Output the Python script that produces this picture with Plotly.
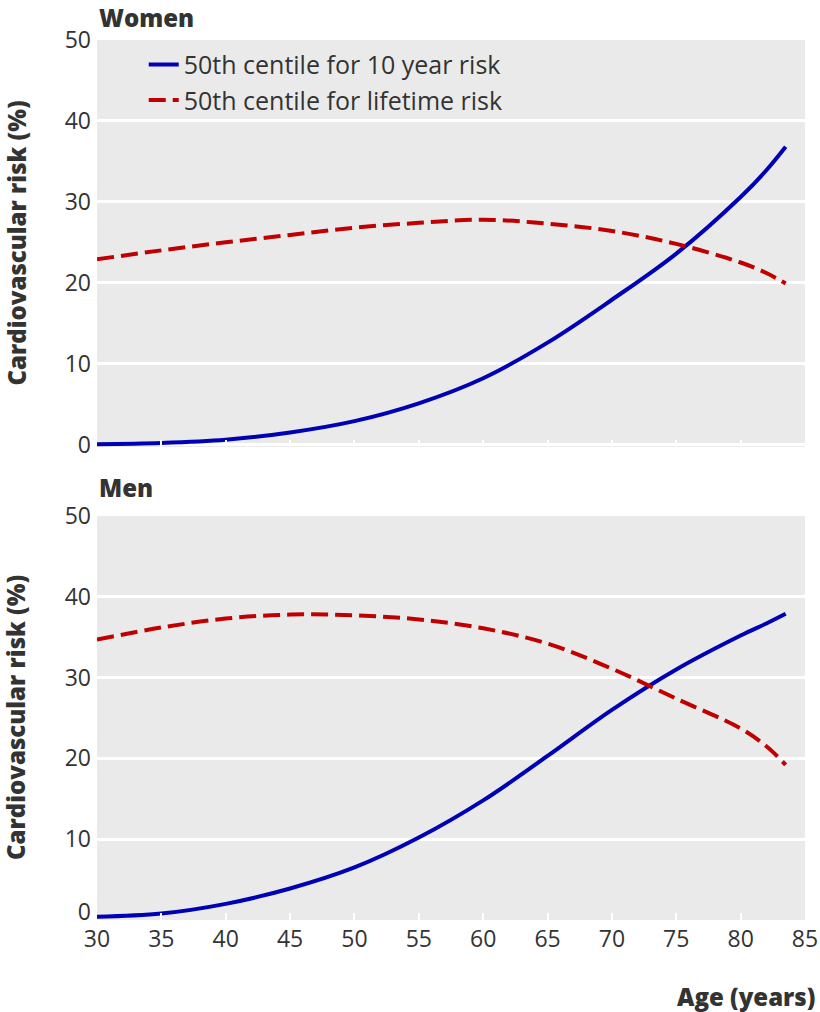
import plotly.graph_objects as go

# ---- data ----
ages = [30, 35, 40, 45, 50, 55, 60, 65, 70, 75, 80, 82, 83.5]

women_10yr = [0.05, 0.2, 0.6, 1.5, 2.9, 5.1, 8.2, 12.6, 17.9, 23.6, 30.6, 33.9, 36.8]
women_lifetime = [22.9, 24.0, 25.0, 25.9, 26.8, 27.4, 27.8, 27.3, 26.4, 24.8, 22.5, 21.2, 19.9]

men_10yr = [0.4, 0.8, 2.0, 3.9, 6.5, 10.2, 14.8, 20.3, 26.0, 31.0, 35.2, 36.7, 37.9]
men_lifetime = [34.7, 36.2, 37.3, 37.8, 37.7, 37.2, 36.1, 34.2, 31.1, 27.4, 23.7, 21.5, 19.2]

x_ticks = [30, 35, 40, 45, 50, 55, 60, 65, 70, 75, 80, 85]
y_ticks = [0, 10, 20, 30, 40, 50]

series_names = ["50th centile for 10 year risk", "50th centile for lifetime risk"]

BLUE = "#0000B4"
RED = "#C00000"
BG = "#EAEAEA"
TXT = "#333333"
FONT = "Open Sans"
DASH = "17px,7px"

fig = go.Figure()

# Women (top)
fig.add_trace(go.Scatter(x=ages, y=women_10yr, mode="lines", name=series_names[0],
                         line=dict(color=BLUE, width=4, shape="spline"),
                         xaxis="x", yaxis="y", legendgroup="a"))
fig.add_trace(go.Scatter(x=ages, y=women_lifetime, mode="lines", name=series_names[1],
                         line=dict(color=RED, width=4, shape="spline", dash=DASH),
                         xaxis="x", yaxis="y", legendgroup="b"))
# Men (bottom)
fig.add_trace(go.Scatter(x=ages, y=men_10yr, mode="lines", name=series_names[0],
                         line=dict(color=BLUE, width=4, shape="spline"),
                         xaxis="x2", yaxis="y2", showlegend=False, legendgroup="a"))
fig.add_trace(go.Scatter(x=ages, y=men_lifetime, mode="lines", name=series_names[1],
                         line=dict(color=RED, width=4, shape="spline", dash=DASH),
                         xaxis="x2", yaxis="y2", showlegend=False, legendgroup="b"))
# empty helper trace so the overlay axis carrying the men's "0" label is drawn
fig.add_trace(go.Scatter(x=[None], y=[None], mode="lines", xaxis="x2", yaxis="y3",
                         showlegend=False, hoverinfo="skip"))

tickfont = dict(family=FONT, size=23, color=TXT)
xcommon = dict(range=[30, 85], tickvals=x_ticks, showgrid=False, zeroline=False,
               ticks="inside", ticklen=7, tickwidth=2, tickcolor="white",
               showline=False, automargin=False, ticklabelstandoff=3,
               tickfont=tickfont)
ycommon = dict(showgrid=True, gridcolor="white", gridwidth=2.5,
               zeroline=False, showline=False, ticks="", automargin=False,
               ticklabelstandoff=5, tickfont=tickfont)

fig.update_layout(
    template="none",
    width=820, height=1012,
    margin=dict(l=97, r=15, t=40, b=92),
    paper_bgcolor="white",
    plot_bgcolor=BG,
    font=dict(family=FONT, color=TXT),
    xaxis=dict(domain=[0, 1], anchor="y", showticklabels=False, **xcommon),
    yaxis=dict(domain=[0.5375, 1.0], anchor="x", range=[-0.3, 50],
               tickvals=y_ticks, **ycommon),
    xaxis2=dict(domain=[0, 1], anchor="y2", showticklabels=True, **xcommon),
    yaxis2=dict(domain=[0, 0.4591], anchor="x2", range=[0, 50],
                tickvals=y_ticks[1:], **ycommon),
    # the men's "0" label sits a little above the axis corner, as in the reference
    yaxis3=dict(overlaying="y2", anchor="x2", range=[0, 50], tickvals=y_ticks[:1],
                showgrid=False, zeroline=False, showline=False, ticks="",
                automargin=False, ticklabelstandoff=5, ticklabelshift=-8,
                tickfont=tickfont, side="left"),
    legend=dict(x=0.066, y=0.998, xanchor="left", yanchor="top",
                bgcolor="rgba(0,0,0,0)", font=dict(family=FONT, size=25, color=TXT),
                tracegroupgap=0),
    showlegend=True,
)

title_font = dict(family=FONT, size=24, color=TXT, weight=800)
axis_title_font = dict(family=FONT, size=24, color=TXT, weight=800)

fig.add_annotation(text="Women", xref="paper", yref="paper", x=0, y=1.026,
                   xanchor="left", yanchor="middle", showarrow=False, font=title_font)
fig.add_annotation(text="Men", xref="paper", yref="paper", x=0, y=0.492,
                   xanchor="left", yanchor="middle", showarrow=False, font=title_font)
fig.add_annotation(text="Age (years)", xref="paper", yref="paper", x=1.017, y=-0.0875,
                   xanchor="right", yanchor="middle", showarrow=False, font=axis_title_font)
for yc in [(1.0 + 0.5375) / 2, 0.4591 / 2]:
    fig.add_annotation(text="Cardiovascular risk (%)", xref="paper", yref="paper",
                       x=-0.1144, y=yc, xanchor="center", yanchor="middle",
                       textangle=-90, showarrow=False, font=axis_title_font)

fig.write_html("out.html", config={"displayModeBar": False},
               post_script="document.body.style.margin='0';")
